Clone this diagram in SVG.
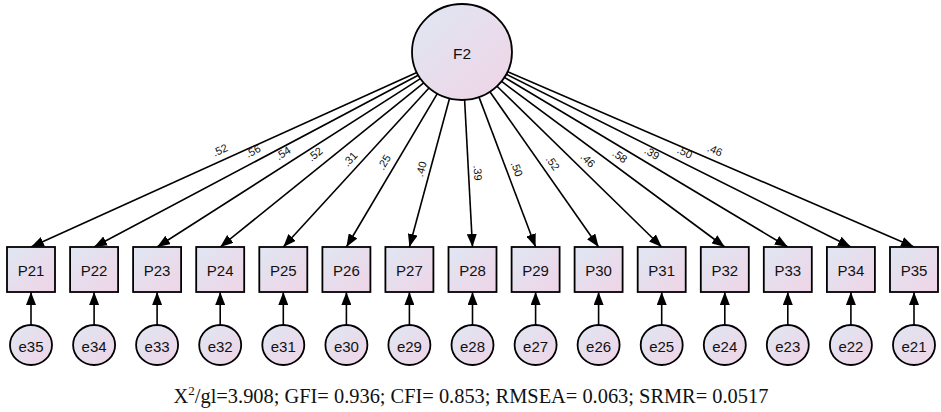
<svg xmlns="http://www.w3.org/2000/svg" width="941" height="412" viewBox="0 0 941 412">
<defs>
<linearGradient id="g" x1="0" y1="0" x2="1" y2="1">
<stop offset="0" stop-color="#e0e7f3"/>
<stop offset="1" stop-color="#efd4e6"/>
</linearGradient>
<marker id="ah" markerUnits="userSpaceOnUse" markerWidth="13" markerHeight="10" refX="13" refY="5" orient="auto">
<path d="M0,0 L13,5 L0,10 z" fill="#000"/>
</marker>
</defs>
<style>
.shape{fill:url(#g);stroke:#000;stroke-width:1.8}
.lbl{font-family:"Liberation Sans",Arial,sans-serif;fill:#111;text-anchor:middle;dominant-baseline:central}
.node{font-size:15px}
.coef{font-size:11px}
.conn path{fill:none;stroke:#000;stroke-width:1.6;marker-end:url(#ah)}
.fit{font-family:"Liberation Serif","Times New Roman",serif;font-size:20.4px;fill:#111;text-anchor:middle}
</style>
<g id="connectors" class="conn">
<path d="M416.8,72.5 L31,247"/>
<path d="M418.2,75.2 L94.1,247"/>
<path d="M420.4,78.6 L157.1,247"/>
<path d="M423.7,82.9 L220.2,247"/>
<path d="M429,88 L283.3,247"/>
<path d="M437.3,93.7 L346.4,247"/>
<path d="M449.5,98.5 L409.4,247"/>
<path d="M464.6,99.9 L472.5,247"/>
<path d="M479,97.1 L535.6,247"/>
<path d="M489.9,91.8 L598.6,247"/>
<path d="M497,86.2 L661.7,247"/>
<path d="M501.6,81.4 L724.8,247"/>
<path d="M504.4,77.4 L787.8,247"/>
<path d="M506.3,74.2 L850.9,247"/>
<path d="M507.6,71.7 L914,247"/>
<path d="M31,325 L31,292"/>
<path d="M94.1,325 L94.1,292"/>
<path d="M157.1,325 L157.1,292"/>
<path d="M220.2,325 L220.2,292"/>
<path d="M283.3,325 L283.3,292"/>
<path d="M346.4,325 L346.4,292"/>
<path d="M409.4,325 L409.4,292"/>
<path d="M472.5,325 L472.5,292"/>
<path d="M535.6,325 L535.6,292"/>
<path d="M598.6,325 L598.6,292"/>
<path d="M661.7,325 L661.7,292"/>
<path d="M724.8,325 L724.8,292"/>
<path d="M787.8,325 L787.8,292"/>
<path d="M850.9,325 L850.9,292"/>
<path d="M914,325 L914,292"/>
</g>
<g id="coefficients" class="lbl coef">
<text x="220" y="150" transform="rotate(-24.3 220 150)">.52</text>
<text x="253" y="151" transform="rotate(-27.9 253 151)">.56</text>
<text x="283" y="153" transform="rotate(-32.6 283 153)">.54</text>
<text x="315" y="154" transform="rotate(-38.9 315 154)">.52</text>
<text x="350" y="159" transform="rotate(-47.5 350 159)">.31</text>
<text x="384" y="162" transform="rotate(-59.3 384 162)">.25</text>
<text x="421" y="169" transform="rotate(-74.9 421 169)">.40</text>
<text x="478" y="173" transform="rotate(86.9 478 173)">.39</text>
<text x="517" y="169" transform="rotate(69.3 517 169)">.50</text>
<text x="553" y="163" transform="rotate(55 553 163)">.52</text>
<text x="588" y="160" transform="rotate(44.3 588 160)">.46</text>
<text x="620" y="156" transform="rotate(36.6 620 156)">.58</text>
<text x="652" y="153" transform="rotate(30.9 652 153)">.39</text>
<text x="685" y="152" transform="rotate(26.6 685 152)">.50</text>
<text x="715" y="150" transform="rotate(23.3 715 150)">.46</text>
</g>
<g id="F2"><ellipse class="shape" cx="462" cy="52" rx="50" ry="48"/><text class="lbl" x="462" y="53" font-size="15.5">F2</text></g>
<g id="P21"><rect class="shape" x="7" y="247" width="48" height="45"/><text class="lbl node" x="31" y="270">P21</text></g>
<g id="P22"><rect class="shape" x="70.1" y="247" width="48" height="45"/><text class="lbl node" x="94.1" y="270">P22</text></g>
<g id="P23"><rect class="shape" x="133.1" y="247" width="48" height="45"/><text class="lbl node" x="157.1" y="270">P23</text></g>
<g id="P24"><rect class="shape" x="196.2" y="247" width="48" height="45"/><text class="lbl node" x="220.2" y="270">P24</text></g>
<g id="P25"><rect class="shape" x="259.3" y="247" width="48" height="45"/><text class="lbl node" x="283.3" y="270">P25</text></g>
<g id="P26"><rect class="shape" x="322.4" y="247" width="48" height="45"/><text class="lbl node" x="346.4" y="270">P26</text></g>
<g id="P27"><rect class="shape" x="385.4" y="247" width="48" height="45"/><text class="lbl node" x="409.4" y="270">P27</text></g>
<g id="P28"><rect class="shape" x="448.5" y="247" width="48" height="45"/><text class="lbl node" x="472.5" y="270">P28</text></g>
<g id="P29"><rect class="shape" x="511.6" y="247" width="48" height="45"/><text class="lbl node" x="535.6" y="270">P29</text></g>
<g id="P30"><rect class="shape" x="574.6" y="247" width="48" height="45"/><text class="lbl node" x="598.6" y="270">P30</text></g>
<g id="P31"><rect class="shape" x="637.7" y="247" width="48" height="45"/><text class="lbl node" x="661.7" y="270">P31</text></g>
<g id="P32"><rect class="shape" x="700.8" y="247" width="48" height="45"/><text class="lbl node" x="724.8" y="270">P32</text></g>
<g id="P33"><rect class="shape" x="763.8" y="247" width="48" height="45"/><text class="lbl node" x="787.8" y="270">P33</text></g>
<g id="P34"><rect class="shape" x="826.9" y="247" width="48" height="45"/><text class="lbl node" x="850.9" y="270">P34</text></g>
<g id="P35"><rect class="shape" x="890" y="247" width="48" height="45"/><text class="lbl node" x="914" y="270">P35</text></g>
<g id="e35"><ellipse class="shape" cx="31" cy="345" rx="21" ry="20"/><text class="lbl node" x="31" y="346">e35</text></g>
<g id="e34"><ellipse class="shape" cx="94.1" cy="345" rx="21" ry="20"/><text class="lbl node" x="94.1" y="346">e34</text></g>
<g id="e33"><ellipse class="shape" cx="157.1" cy="345" rx="21" ry="20"/><text class="lbl node" x="157.1" y="346">e33</text></g>
<g id="e32"><ellipse class="shape" cx="220.2" cy="345" rx="21" ry="20"/><text class="lbl node" x="220.2" y="346">e32</text></g>
<g id="e31"><ellipse class="shape" cx="283.3" cy="345" rx="21" ry="20"/><text class="lbl node" x="283.3" y="346">e31</text></g>
<g id="e30"><ellipse class="shape" cx="346.4" cy="345" rx="21" ry="20"/><text class="lbl node" x="346.4" y="346">e30</text></g>
<g id="e29"><ellipse class="shape" cx="409.4" cy="345" rx="21" ry="20"/><text class="lbl node" x="409.4" y="346">e29</text></g>
<g id="e28"><ellipse class="shape" cx="472.5" cy="345" rx="21" ry="20"/><text class="lbl node" x="472.5" y="346">e28</text></g>
<g id="e27"><ellipse class="shape" cx="535.6" cy="345" rx="21" ry="20"/><text class="lbl node" x="535.6" y="346">e27</text></g>
<g id="e26"><ellipse class="shape" cx="598.6" cy="345" rx="21" ry="20"/><text class="lbl node" x="598.6" y="346">e26</text></g>
<g id="e25"><ellipse class="shape" cx="661.7" cy="345" rx="21" ry="20"/><text class="lbl node" x="661.7" y="346">e25</text></g>
<g id="e24"><ellipse class="shape" cx="724.8" cy="345" rx="21" ry="20"/><text class="lbl node" x="724.8" y="346">e24</text></g>
<g id="e23"><ellipse class="shape" cx="787.8" cy="345" rx="21" ry="20"/><text class="lbl node" x="787.8" y="346">e23</text></g>
<g id="e22"><ellipse class="shape" cx="850.9" cy="345" rx="21" ry="20"/><text class="lbl node" x="850.9" y="346">e22</text></g>
<g id="e21"><ellipse class="shape" cx="914" cy="345" rx="21" ry="20"/><text class="lbl node" x="914" y="346">e21</text></g>
<text class="fit" x="471" y="403">X<tspan font-size="13" dy="-8">2</tspan><tspan dy="8">/gl=3.908; GFI= 0.936; CFI= 0.853; RMSEA= 0.063; SRMR= 0.0517</tspan></text>
</svg>
